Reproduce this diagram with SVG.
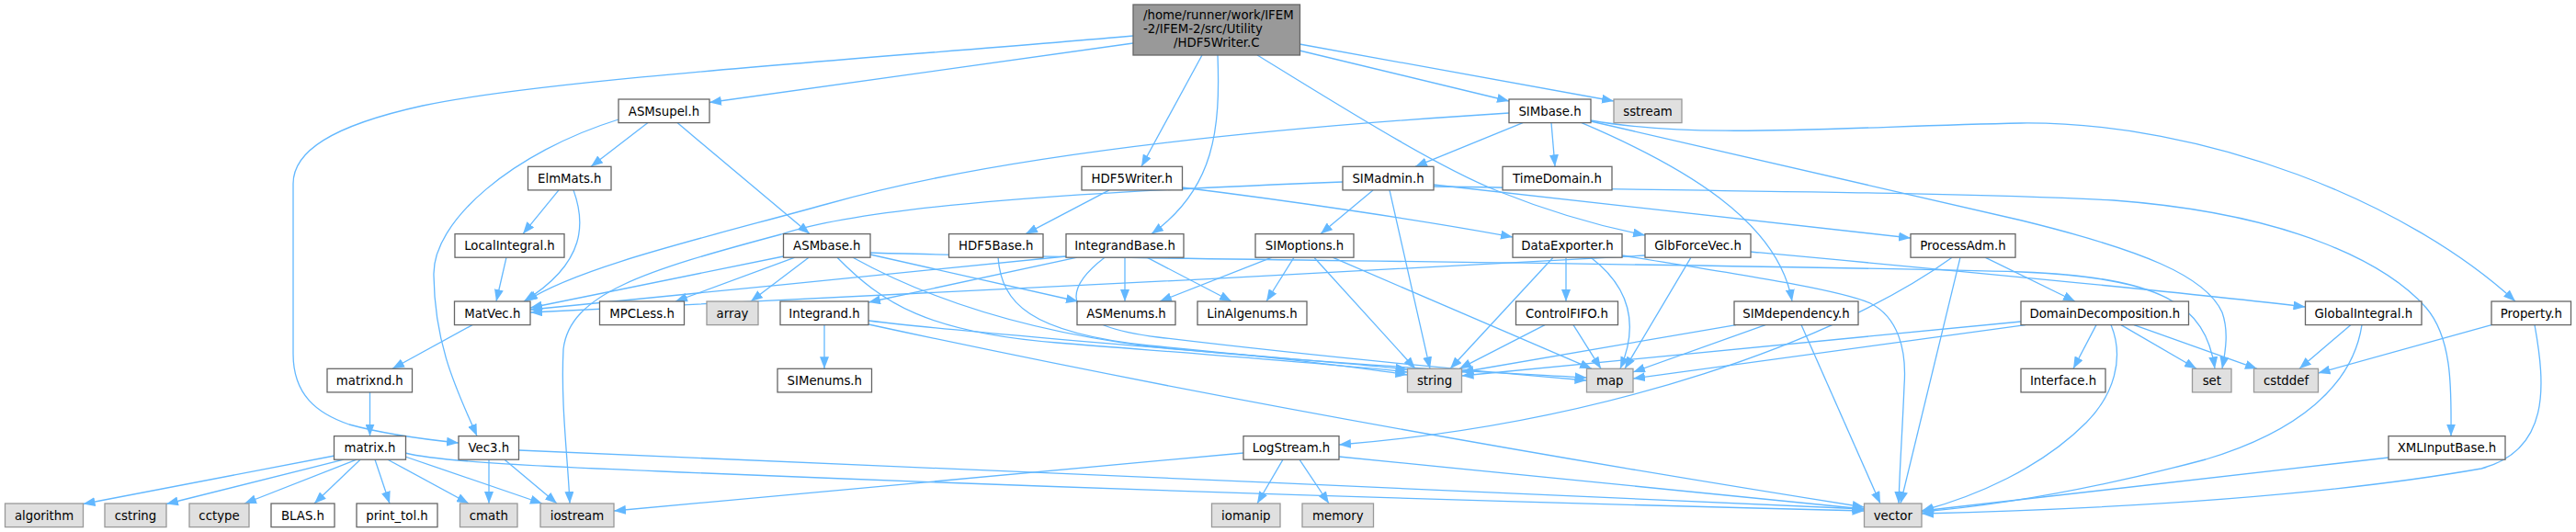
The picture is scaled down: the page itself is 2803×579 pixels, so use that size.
<svg xmlns="http://www.w3.org/2000/svg" width="2803" height="579" viewBox="0 0 2803 579">
<style>
text{font-family:"DejaVu Sans","Liberation Sans",sans-serif;font-size:13.3px;fill:#000;text-anchor:middle}
.n rect{fill:#fff;stroke:#666;stroke-width:1.3}
.x rect{fill:#e0e0e0;stroke:#999;stroke-width:1.3}
.r rect{fill:#999;stroke:#666;stroke-width:1.3}
#edges path{fill:none;stroke:#63b8ff;stroke-width:1.3;marker-end:url(#ah)}
</style>
<defs>
<marker id="ah" viewBox="0 0 13 10" refX="13" refY="5" markerWidth="13" markerHeight="10" markerUnits="userSpaceOnUse" orient="auto"><path d="M0,0L13,5L0,10z" fill="#63b8ff"/></marker>
</defs>
<rect width="2803" height="579" fill="#fff"/>
<g id="edges">
<path d="M1233,47 L772,111.5"/>
<path d="M1233,39 C1000,60 600,85 460,115 C360,137 319,165 319,200 L319,385 C319,430 345,450 380,462 C420,473 460,478 499,482"/>
<path d="M1308,60 L1242,181.3"/>
<path d="M1325,60 C1328,140 1322,205 1253,254.6"/>
<path d="M1368,60 C1450,110 1560,180 1630,208 C1690,232 1740,246 1790,256"/>
<path d="M1414,55 L1642,110"/>
<path d="M1414,48 L1756,110"/>
<path d="M705,133.6 L643,181.3"/>
<path d="M737,133.6 L881,254.6"/>
<path d="M673,130 C560,165 470,240 472,300 C473,380 500,430 519,474.6"/>
<path d="M608,206.9 L569,254.6"/>
<path d="M624,206.9 C636,240 640,285 570,328"/>
<path d="M551,280.2 L540,328"/>
<path d="M514,353.6 L427,401.3"/>
<path d="M402.5,426.9 L402.5,474.6"/>
<path d="M364,496 L90.5,548.5"/>
<path d="M374,500.2 L181,548.5"/>
<path d="M388,500.2 L266,548"/>
<path d="M392,500.2 L342,548"/>
<path d="M408,500.2 L424,548"/>
<path d="M422,500.2 L510,548"/>
<path d="M441,497 L590,548"/>
<path d="M441,493 C480,503 600,508 720,513 C1200,533 1700,548 2028.5,556"/>
<path d="M532,500.2 L532,548"/>
<path d="M549,500.2 L606,548"/>
<path d="M564.5,490 C900,502 1600,536 2028.5,554"/>
<path d="M1642,123 C1400,138 1100,165 900,222 C770,258 630,290 572,328"/>
<path d="M1657,133.6 L1540,181.3"/>
<path d="M1688,133.6 L1692,181.3"/>
<path d="M1721,133.6 C1830,180 1935,240 1950,328"/>
<path d="M1731,132 C1900,170 2050,205 2200,240 C2330,272 2400,300 2418,340 C2425,360 2422,380 2418,401.3"/>
<path d="M1731,131 C1850,152 2000,138 2199,134 C2400,132 2620,220 2737,328"/>
<path d="M1494,206.9 L1437,254.6"/>
<path d="M1512,206.9 L1556,401.3"/>
<path d="M1461,198 C1200,208 950,222 850,255 C700,295 620,320 613,380 C610,440 618,500 620,548"/>
<path d="M1560,201 L2079,259"/>
<path d="M1560,203 C1900,208 2150,210 2300,218 C2500,233 2600,290 2640,335 C2670,370 2667,430 2667,474.6"/>
<path d="M1207,206.9 L1116,254.6"/>
<path d="M1286,204 C1400,218 1550,240 1646,258"/>
<path d="M852.5,279 L577,335"/>
<path d="M865,280.2 L735,328"/>
<path d="M880,280.2 L817,328"/>
<path d="M911,280.2 C960,330 1010,362 1150,373 C1300,385 1450,396 1531.5,405"/>
<path d="M928,280.2 C1000,320 1100,358 1250,377 C1450,397 1620,405 1726.5,411"/>
<path d="M947,275 C1100,281 1900,287 2200,296 C2350,302 2400,330 2410,401.3"/>
<path d="M947,277 L1173,328"/>
<path d="M1160,279 C1000,295 750,320 577,337"/>
<path d="M1172,280.2 L945,329"/>
<path d="M1202,280.2 C1150,320 1160,355 1260,367 C1450,390 1620,405 1726.5,414"/>
<path d="M1224,280.2 L1224,328"/>
<path d="M1248,280.2 L1340,328"/>
<path d="M1086,280.2 C1090,330 1120,362 1250,376 C1400,390 1480,400 1531.5,408"/>
<path d="M897,353.6 L897,401.3"/>
<path d="M945,349 C1100,368 1400,388 1531.5,402"/>
<path d="M945,353 C1300,430 1700,500 2028.5,552"/>
<path d="M1384,280.2 L1262,328"/>
<path d="M1408,280.2 L1378,328"/>
<path d="M1430,280.2 L1540,401.3"/>
<path d="M1450,280.2 L1732,401.3"/>
<path d="M1690,280.2 L1578,401.3"/>
<path d="M1704,280.2 L1704,328"/>
<path d="M1731,280.2 C1770,310 1785,350 1763,401.3"/>
<path d="M1765,278 C1900,300 2000,315 2035,330 C2065,345 2075,380 2072,420 C2070,470 2067,510 2066,548"/>
<path d="M1681,353.6 L1588,401.3"/>
<path d="M1712,353.6 L1742,401.3"/>
<path d="M1790,278 C1400,300 900,325 577,340"/>
<path d="M1840,280.2 L1768,401.3"/>
<path d="M1905,274 C2100,292 2350,315 2508.5,334"/>
<path d="M2124,280.2 C2000,370 1750,460 1457,484"/>
<path d="M2133,280.2 L2068,548"/>
<path d="M2160,280.2 L2258,328"/>
<path d="M1889,353.6 L1590.5,405"/>
<path d="M1921,353.6 L1777,405"/>
<path d="M1960,353.6 L2046,548"/>
<path d="M2281,353.6 L2256,401.3"/>
<path d="M2308,353.6 L2390,401.3"/>
<path d="M2322,353.6 L2456,401.3"/>
<path d="M2297,353.6 C2312,390 2300,430 2270,460 C2220,510 2150,540 2091,556"/>
<path d="M2199,350 L1590.5,409"/>
<path d="M2204,353.6 L1777,412"/>
<path d="M2558,353.6 L2502,401.3"/>
<path d="M2570,353.6 C2560,420 2500,470 2400,500 C2250,540 2150,552 2091,557"/>
<path d="M2711,353.6 L2522.5,406"/>
<path d="M2758,353.6 C2770,420 2775,490 2700,510 C2500,545 2250,555 2091,559"/>
<path d="M2599,498 L2091,556"/>
<path d="M1396,500.2 L1368,548"/>
<path d="M1414,500.2 L1446,548"/>
<path d="M1457,497 L2028.5,554"/>
<path d="M1353,493 L668,556"/>
</g>
<g id="HDF5Writer_C" class="r"><rect x="1233" y="5" width="181.5" height="55"/><text x="1244" y="20.5" style="text-anchor:start">/home/runner/work/IFEM</text><text x="1244" y="36" style="text-anchor:start">-2/IFEM-2/src/Utility</text><text x="1323.8" y="51">/HDF5Writer.C</text></g>
<g id="ASMsupel_h" class="n"><rect x="673" y="108" width="99" height="25.6"/><text x="722.5" y="125.6">ASMsupel.h</text></g>
<g id="SIMbase_h" class="n"><rect x="1642" y="108" width="89" height="25.6"/><text x="1686.5" y="125.6">SIMbase.h</text></g>
<g id="sstream" class="x"><rect x="1756" y="108" width="74" height="25.6"/><text x="1793" y="125.6">sstream</text></g>
<g id="ElmMats_h" class="n"><rect x="574.5" y="181.3" width="90.5" height="25.6"/><text x="619.8" y="198.9">ElmMats.h</text></g>
<g id="HDF5Writer_h" class="n"><rect x="1177" y="181.3" width="109.5" height="25.6"/><text x="1231.8" y="198.9">HDF5Writer.h</text></g>
<g id="SIMadmin_h" class="n"><rect x="1461" y="181.3" width="99" height="25.6"/><text x="1510.5" y="198.9">SIMadmin.h</text></g>
<g id="TimeDomain_h" class="n"><rect x="1635" y="181.3" width="119" height="25.6"/><text x="1694.5" y="198.9">TimeDomain.h</text></g>
<g id="LocalIntegral_h" class="n"><rect x="495" y="254.6" width="119" height="25.6"/><text x="554.5" y="272.2">LocalIntegral.h</text></g>
<g id="ASMbase_h" class="n"><rect x="852.5" y="254.6" width="94.5" height="25.6"/><text x="899.8" y="272.2">ASMbase.h</text></g>
<g id="HDF5Base_h" class="n"><rect x="1032.5" y="254.6" width="102.5" height="25.6"/><text x="1083.8" y="272.2">HDF5Base.h</text></g>
<g id="IntegrandBase_h" class="n"><rect x="1160" y="254.6" width="128" height="25.6"/><text x="1224" y="272.2">IntegrandBase.h</text></g>
<g id="SIMoptions_h" class="n"><rect x="1366" y="254.6" width="107" height="25.6"/><text x="1419.5" y="272.2">SIMoptions.h</text></g>
<g id="DataExporter_h" class="n"><rect x="1646" y="254.6" width="119" height="25.6"/><text x="1705.5" y="272.2">DataExporter.h</text></g>
<g id="GlbForceVec_h" class="n"><rect x="1790" y="254.6" width="115" height="25.6"/><text x="1847.5" y="272.2">GlbForceVec.h</text></g>
<g id="ProcessAdm_h" class="n"><rect x="2079" y="254.6" width="114" height="25.6"/><text x="2136" y="272.2">ProcessAdm.h</text></g>
<g id="MatVec_h" class="n"><rect x="494.5" y="328" width="82.5" height="25.6"/><text x="535.8" y="345.6">MatVec.h</text></g>
<g id="MPCLess_h" class="n"><rect x="652.5" y="328" width="92" height="25.6"/><text x="698.5" y="345.6">MPCLess.h</text></g>
<g id="array" class="x"><rect x="769" y="328" width="56" height="25.6"/><text x="797" y="345.6">array</text></g>
<g id="Integrand_h" class="n"><rect x="849" y="328" width="96" height="25.6"/><text x="897" y="345.6">Integrand.h</text></g>
<g id="ASMenums_h" class="n"><rect x="1172" y="328" width="107" height="25.6"/><text x="1225.5" y="345.6">ASMenums.h</text></g>
<g id="LinAlgenums_h" class="n"><rect x="1303" y="328" width="119" height="25.6"/><text x="1362.5" y="345.6">LinAlgenums.h</text></g>
<g id="ControlFIFO_h" class="n"><rect x="1649.5" y="328" width="111" height="25.6"/><text x="1705" y="345.6">ControlFIFO.h</text></g>
<g id="SIMdependency_h" class="n"><rect x="1887" y="328" width="135" height="25.6"/><text x="1954.5" y="345.6">SIMdependency.h</text></g>
<g id="DomainDecomposition_h" class="n"><rect x="2199" y="328" width="182.5" height="25.6"/><text x="2290.3" y="345.6">DomainDecomposition.h</text></g>
<g id="GlobalIntegral_h" class="n"><rect x="2508.5" y="328" width="126.5" height="25.6"/><text x="2571.8" y="345.6">GlobalIntegral.h</text></g>
<g id="Property_h" class="n"><rect x="2711" y="328" width="86.5" height="25.6"/><text x="2754.3" y="345.6">Property.h</text></g>
<g id="matrixnd_h" class="n"><rect x="356" y="401.3" width="92.5" height="25.6"/><text x="402.3" y="418.9">matrixnd.h</text></g>
<g id="SIMenums_h" class="n"><rect x="846" y="401.3" width="102.5" height="25.6"/><text x="897.3" y="418.9">SIMenums.h</text></g>
<g id="string" class="x"><rect x="1531.5" y="401.3" width="59" height="25.6"/><text x="1561" y="418.9">string</text></g>
<g id="map" class="x"><rect x="1726.5" y="401.3" width="50.5" height="25.6"/><text x="1751.8" y="418.9">map</text></g>
<g id="Interface_h" class="n"><rect x="2199" y="401.3" width="92" height="25.6"/><text x="2245" y="418.9">Interface.h</text></g>
<g id="set" class="x"><rect x="2385.5" y="401.3" width="42.5" height="25.6"/><text x="2406.8" y="418.9">set</text></g>
<g id="cstddef" class="x"><rect x="2452.5" y="401.3" width="70" height="25.6"/><text x="2487.5" y="418.9">cstddef</text></g>
<g id="matrix_h" class="n"><rect x="363.5" y="474.6" width="78" height="25.6"/><text x="402.5" y="492.2">matrix.h</text></g>
<g id="Vec3_h" class="n"><rect x="499" y="474.6" width="65.5" height="25.6"/><text x="531.8" y="492.2">Vec3.h</text></g>
<g id="LogStream_h" class="n"><rect x="1353" y="474.6" width="104" height="25.6"/><text x="1405" y="492.2">LogStream.h</text></g>
<g id="XMLInputBase_h" class="n"><rect x="2599" y="474.6" width="127" height="25.6"/><text x="2662.5" y="492.2">XMLInputBase.h</text></g>
<g id="algorithm" class="x"><rect x="5.5" y="548" width="85" height="25.6"/><text x="48" y="565.6">algorithm</text></g>
<g id="cstring" class="x"><rect x="114" y="548" width="67" height="25.6"/><text x="147.5" y="565.6">cstring</text></g>
<g id="cctype" class="x"><rect x="206" y="548" width="65" height="25.6"/><text x="238.5" y="565.6">cctype</text></g>
<g id="BLAS_h" class="n"><rect x="295" y="548" width="69" height="25.6"/><text x="329.5" y="565.6">BLAS.h</text></g>
<g id="print_tol_h" class="n"><rect x="388" y="548" width="88" height="25.6"/><text x="432" y="565.6">print_tol.h</text></g>
<g id="cmath" class="x"><rect x="500.5" y="548" width="62.5" height="25.6"/><text x="531.8" y="565.6">cmath</text></g>
<g id="iostream" class="x"><rect x="588" y="548" width="80" height="25.6"/><text x="628" y="565.6">iostream</text></g>
<g id="iomanip" class="x"><rect x="1318.5" y="548" width="74.5" height="25.6"/><text x="1355.8" y="565.6">iomanip</text></g>
<g id="memory" class="x"><rect x="1417" y="548" width="77.5" height="25.6"/><text x="1455.8" y="565.6">memory</text></g>
<g id="vector" class="x"><rect x="2028.5" y="548" width="62.5" height="25.6"/><text x="2059.8" y="565.6">vector</text></g>
</svg>
